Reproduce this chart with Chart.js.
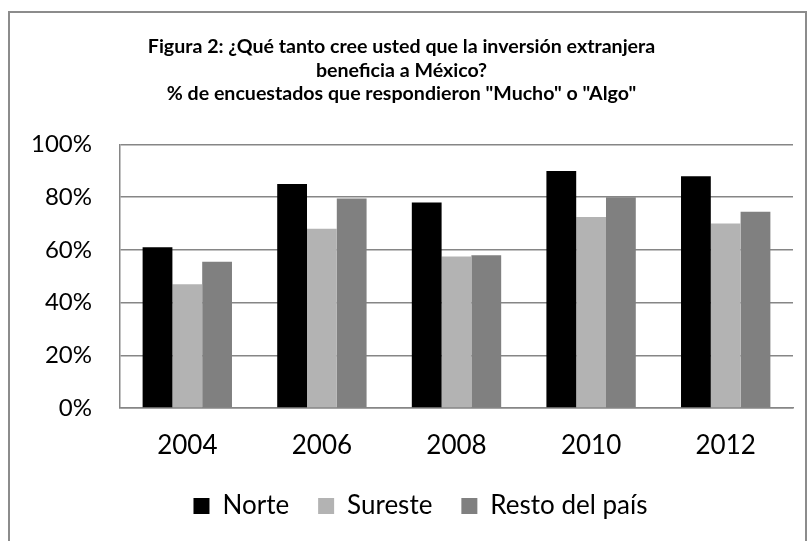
<!DOCTYPE html>
<html>
<head>
<meta charset="utf-8">
<script src="https://cdn.jsdelivr.net/npm/chart.js@4"></script>
<style>
  html, body { margin: 0; padding: 0; background: #fff; }
  #marco {
    position: absolute;
    left: 8px; top: 11px;
    width: 799px; height: 536px;
    box-sizing: border-box;
    border: 2px solid #8c8c8c;
  }
  #marco canvas { display: block; }
</style>
</head>
<body>
<div id="marco"><canvas id="figura2" width="795" height="532"></canvas></div>
<script>
// datos
var anios = ["2004", "2006", "2008", "2010", "2012"];
var norte = [61, 85, 78, 90, 88];
var sureste = [47, 68, 57.5, 72.5, 70];
var restoPais = [55.5, 79.5, 58, 80, 74.5];
var ticksY = [0, 20, 40, 60, 80, 100];

var ctx = document.getElementById("figura2").getContext("2d");

Chart.defaults.font.family = "Lato, 'Open Sans', sans-serif";
Chart.defaults.color = "#000";

function serie(nombre, valores, color) {
    return {
        label: nombre,
        data: valores,
        backgroundColor: color,
        borderWidth: 0,
        barPercentage: 1.0,
        categoryPercentage: 0.664,
    };
}

// la leyenda del original no esta centrada en el lienzo, la corro un poco
var correrLeyenda = {
    id: "correrLeyenda",
    afterLayout: function (chart) {
        if (chart.legend) {
            chart.legend.left += 19;
            chart.legend.right += 19;
        }
    },
};

new Chart(ctx, {
    type: "bar",
    data: {
        labels: anios,
        datasets: [
            serie("Norte", norte, "#000000"),
            serie("Sureste", sureste, "#b3b3b3"),
            serie("Resto del país", restoPais, "#808080"),
        ],
    },
    plugins: [correrLeyenda],
    options: {
        responsive: false,
        animation: false,
        layout: { padding: { left: 0, right: 12, top: 0, bottom: 16 } },
        plugins: {
            title: {
                display: true,
                text: [
                    "Figura 2: ¿Qué tanto cree usted que la inversión extranjera",
                    "beneficia a México?",
                    '% de encuestados que respondieron "Mucho" o "Algo"',
                ],
                font: { size: 19.6, weight: "bold", lineHeight: 1.2 },
                padding: { top: 22, bottom: 39 },
                color: "#000",
            },
            legend: {
                position: "bottom",
                labels: {
                    font: { size: 26 },
                    boxWidth: 16,
                    boxHeight: 16,
                    padding: 29,
                    color: "#000",
                },
            },
            tooltip: { enabled: false },
        },
        scales: {
            x: {
                afterFit: function (eje) { eje.height = 56; },
                grid: { display: false, drawTicks: false },
                border: { display: true, color: "#868686", width: 1.5 },
                ticks: { font: { size: 26 }, padding: 22 },
            },
            y: {
                min: 0,
                max: 100,
                afterBuildTicks: function (eje) {
                    eje.ticks = ticksY.map(function (v) { return { value: v }; });
                },
                afterFit: function (eje) { eje.width = 110; },
                grid: { color: "#868686", lineWidth: 1.5, drawTicks: false },
                border: { display: true, color: "#868686", width: 1.5 },
                ticks: {
                    font: { size: 24 },
                    padding: 28,
                    callback: function (v) { return v + "%"; },
                },
            },
        },
    },
});
</script>
</body>
</html>
